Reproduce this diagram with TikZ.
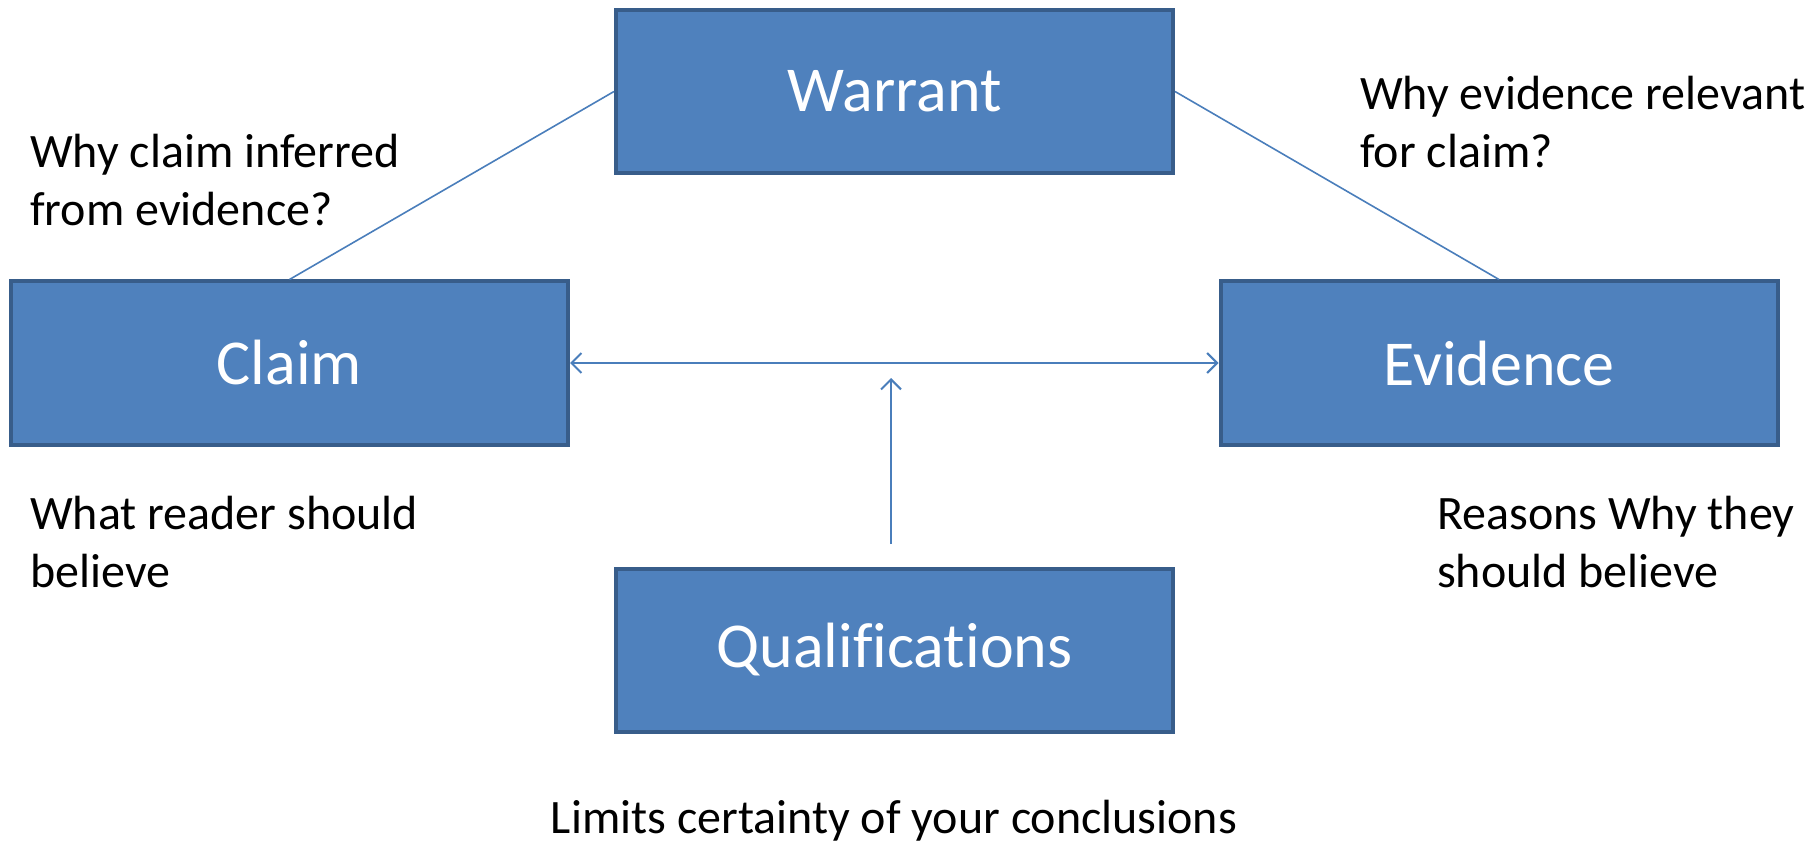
\documentclass[tikz,border=0pt]{standalone}
\usepackage{fontspec}
\setmainfont{Carlito}[Ligatures=NoCommon]
\usetikzlibrary{arrows.meta}
\definecolor{boxfill}{HTML}{4F81BD}
\definecolor{boxline}{HTML}{385D8A}
\definecolor{conn}{HTML}{4A7EBB}
\begin{document}
\begin{tikzpicture}[x=1pt,y=-1pt,
  box/.style={draw=boxline, line width=4pt, fill=boxfill, rectangle,
    minimum width=557pt, minimum height=163pt, inner sep=0pt,
    text=white, font=\fontsize{64}{76}\selectfont},
  note/.style={align=left, inner sep=0pt, anchor=base west,
    font=\fontsize{48}{58}\selectfont},
  link/.style={draw=conn, line width=1.6pt},
  arr/.style={draw=conn, line width=2pt, >={Straight Barb[length=10pt,width=20pt]}}]
\useasboundingbox (0,0) rectangle (1820,842);
\node[box] (warrant) at (894.5,91.5) {Warrant};
\node[box] (claim) at (289.5,363) {Claim};
\node[box] (evidence) at (1499,363) {Evidence};
\node[box] (qual) at (894.5,650) {Qualifications};
\draw[link] (warrant.west) -- (claim.north);
\draw[link] (warrant.east) -- (evidence.north);
\draw[arr, <->] (claim.east) -- (evidence.west);
\coordinate (qfoot) at (891,544);
\coordinate (qhead) at (891,378);
\draw[arr, ->] (qfoot) -- (qhead);
\node[note] (n1) at (30,226) {Why claim inferred\\from evidence?};
\node[note] (n2) at (1360,168) {Why evidence relevant\\for claim?};
\node[note] (n3) at (30,587) {What reader should\\believe};
\node[note] (n4) at (1437,587) {Reasons Why they\\should believe};
\node[note, anchor=base] (n5) at (894,833) {Limits certainty of your conclusions};
\end{tikzpicture}
\end{document}
